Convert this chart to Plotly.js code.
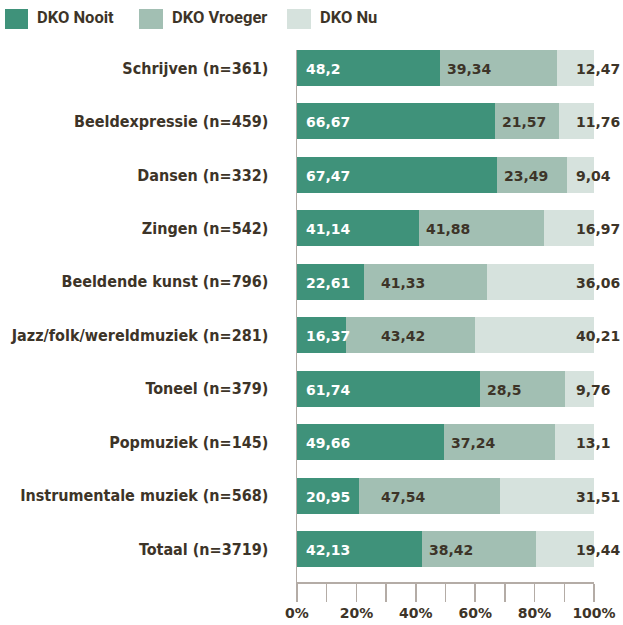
<!DOCTYPE html>
<html>
<head>
<meta charset="utf-8">
<script src="https://cdn.plot.ly/plotly-3.0.1.min.js"></script>
<style>
  html, body { margin: 0; padding: 0; background: #ffffff; }
  #chart { width: 623px; height: 625px; }
</style>
</head>
<body>
<div id="chart"></div>
<script>
// ---- data ----
const categories = [
  'Schrijven (n=361)',
  'Beeldexpressie (n=459)',
  'Dansen (n=332)',
  'Zingen (n=542)',
  'Beeldende kunst (n=796)',
  'Jazz/folk/wereldmuziek (n=281)',
  'Toneel (n=379)',
  'Popmuziek (n=145)',
  'Instrumentale muziek (n=568)',
  'Totaal (n=3719)'
];
const seriesNames = ['DKO Nooit', 'DKO Vroeger', 'DKO Nu'];
const nooit   = [48.2, 66.67, 67.47, 41.14, 22.61, 16.37, 61.74, 49.66, 20.95, 42.13];
const vroeger = [39.34, 21.57, 23.49, 41.88, 41.33, 43.42, 28.5, 37.24, 47.54, 38.42];
const nu      = [12.47, 11.76, 9.04, 16.97, 36.06, 40.21, 9.76, 13.1, 31.51, 19.44];
const xTickVals = [0, 20, 40, 60, 80, 100];
const xTickText = ['0%', '20%', '40%', '60%', '80%', '100%'];

// ---- styles ----
const colors = ['#3f927a', '#a2bfb3', '#d6e2dd'];
const dark = '#3d3428';
const axisGrey = '#b4aca6';
const valFont = 'DejaVu Sans, sans-serif';
const catFont = 'DejaVu Sans Condensed, DejaVu Sans, sans-serif';
const legFont = 'Roboto, DejaVu Sans Condensed, sans-serif';

const W = 623, H = 625;
const M = {l: 297, r: 29, t: 50, b: 43};
const PW = W - M.l - M.r, PH = H - M.t - M.b;
const px = x => (x - M.l) / PW;
const py = y => (H - M.b - y) / PH;

const fmt = v => String(v).replace('.', ',');
const seriesVals = [nooit, vroeger, nu];

const traces = seriesVals.map((vals, s) => ({
  type: 'bar',
  orientation: 'h',
  name: seriesNames[s],
  y: categories,
  x: vals,
  marker: {color: colors[s], line: {width: 0}},
  hoverinfo: 'x+y+name',
  showlegend: false
}));

const annotations = [];
categories.forEach((c, i) => {
  annotations.push({
    x: 0, y: c, xref: 'x', yref: 'y', xanchor: 'left', yanchor: 'middle',
    xshift: 7, yshift: -1, showarrow: false, text: fmt(nooit[i]),
    font: {family: valFont, size: 14, color: '#ffffff', weight: 'bold'}
  });
  annotations.push({
    x: Math.max(nooit[i], 26), y: c, xref: 'x', yref: 'y', xanchor: 'left', yanchor: 'middle',
    xshift: 5, yshift: -1, showarrow: false, text: fmt(vroeger[i]),
    font: {family: valFont, size: 14, color: dark, weight: 'bold'}
  });
  annotations.push({
    x: 94, y: c, xref: 'x', yref: 'y', xanchor: 'left', yanchor: 'middle',
    xshift: -2, yshift: -1, showarrow: false, text: fmt(nu[i]),
    font: {family: valFont, size: 14, color: dark, weight: 'bold'}
  });
});

// legend (drawn manually for large square swatches)
const legBoxes = [[5, 28], [139, 163], [287, 311]];
const shapes = [];
seriesNames.forEach((n, s) => {
  shapes.push({
    type: 'rect', xref: 'paper', yref: 'paper',
    x0: px(legBoxes[s][0]), x1: px(legBoxes[s][1]), y0: py(29), y1: py(9),
    fillcolor: colors[s], line: {width: 0}
  });
  annotations.push({
    x: px(legBoxes[s][1] + 7), y: py(17.5), xref: 'paper', yref: 'paper',
    xanchor: 'left', yanchor: 'middle', showarrow: false, text: n,
    font: {family: legFont, size: 16.5, color: dark, weight: 'bold'}
  });
});

const layout = {
  width: W, height: H,
  margin: M,
  paper_bgcolor: '#ffffff',
  plot_bgcolor: '#ffffff',
  barmode: 'stack',
  bargap: 0.326,
  showlegend: false,
  xaxis: {
    range: [0, 100],
    tickvals: xTickVals,
    ticktext: xTickText,
    ticks: 'outside', ticklen: 18, tickwidth: 1.5, tickcolor: axisGrey,
    minor: {dtick: 10, ticks: 'outside', ticklen: 18, tickwidth: 1.5, tickcolor: axisGrey, showgrid: false},
    showline: true, linecolor: axisGrey, linewidth: 1.5,
    showgrid: false, zeroline: false,
    tickfont: {family: valFont, size: 14, color: dark, weight: 'bold'},
    fixedrange: true
  },
  yaxis: {
    type: 'category',
    categoryorder: 'array',
    categoryarray: categories,
    range: [9.617, -0.337],
    showline: true, linecolor: axisGrey, linewidth: 1.5,
    ticks: '', showgrid: false, zeroline: false,
    ticklabelstandoff: 24,
    tickfont: {family: catFont, size: 16, color: dark, weight: 'bold'},
    fixedrange: true
  },
  shapes: shapes,
  annotations: annotations
};

Plotly.newPlot('chart', traces, layout, {displayModeBar: false, staticPlot: true});
</script>
</body>
</html>
